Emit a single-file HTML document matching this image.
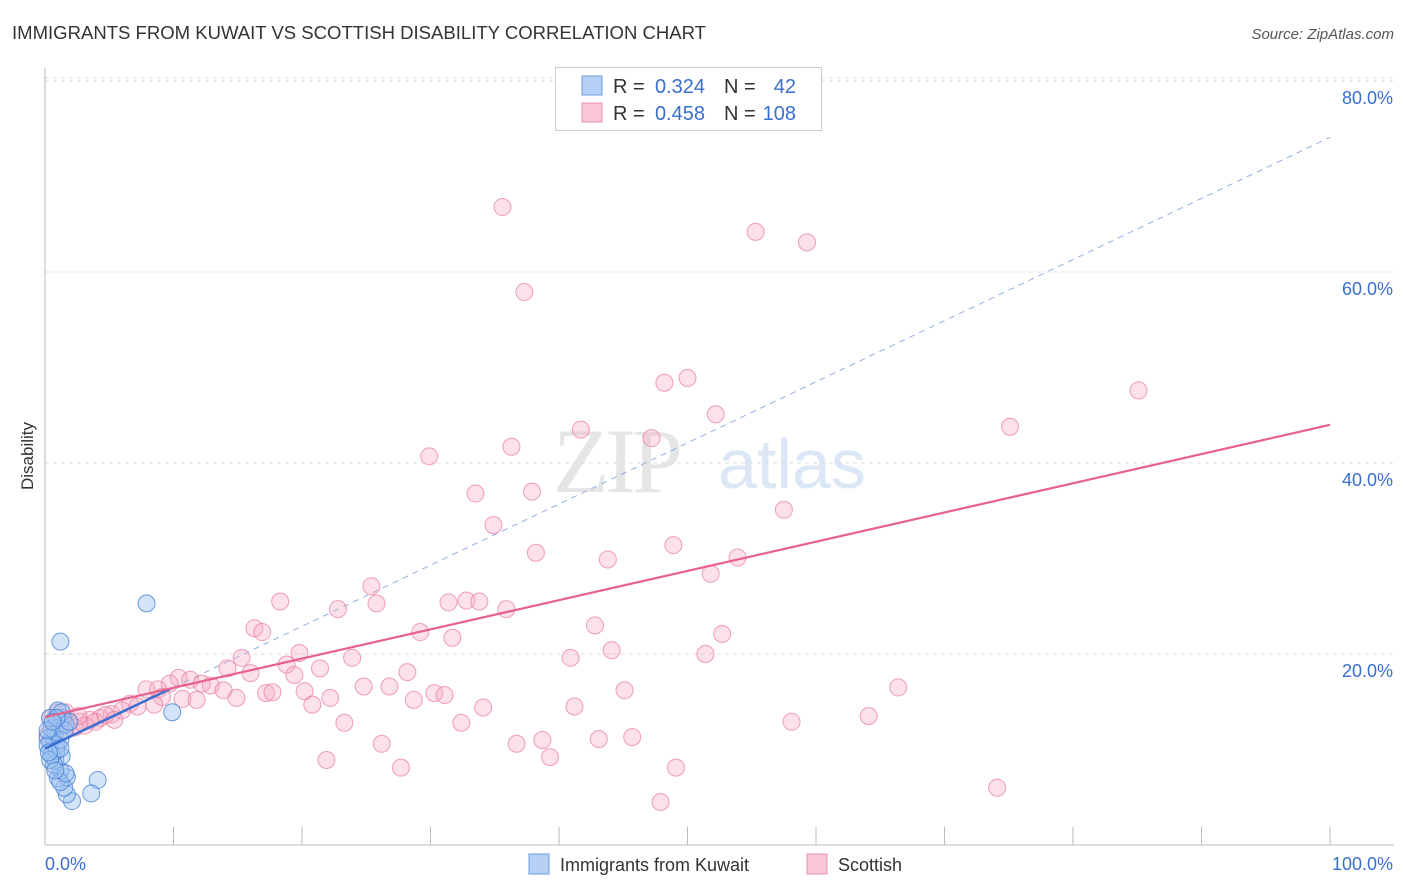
<!DOCTYPE html>
<html><head><meta charset="utf-8"><style>
body{margin:0;background:#fff;font-family:"Liberation Sans",sans-serif;}
svg{display:block}
</style></head><body>
<svg id="chart" width="1406" height="892" xmlns="http://www.w3.org/2000/svg">
<text x="12" y="39" font-size="18" fill="#333" textLength="694" lengthAdjust="spacingAndGlyphs">IMMIGRANTS FROM KUWAIT VS SCOTTISH DISABILITY CORRELATION CHART</text>
<text x="1394" y="39" font-size="15" fill="#555" font-style="italic" text-anchor="end">Source: ZipAtlas.com</text>
<text x="33" y="456" font-size="17" fill="#333" text-anchor="middle" transform="rotate(-90 33 456)">Disability</text>
<g opacity="0.5">
<text x="553" y="492" font-family="Liberation Serif,serif" font-size="92" fill="#ccc" letter-spacing="-4">ZIP</text>
<text x="718" y="488" font-size="70" fill="#b9cfee">atlas</text>
</g>
<g id="grid"></g><g id="axes"></g><g id="lines"></g><g id="pts"></g>
<g>
<rect x="555.5" y="67.5" width="266" height="63" fill="#fff" stroke="#ccc"/>
<rect x="582" y="76" width="20" height="19" fill="#b5d0f4" stroke="#6a9ee0"/>
<rect x="582" y="103" width="20" height="19" fill="#f9c6d5" stroke="#ec8fac"/>
<text x="613" y="93" font-size="20" fill="#333">R = </text>
<text x="705" y="93" font-size="20" fill="#3a6fd0" text-anchor="end">0.324</text>
<text x="724" y="93" font-size="20" fill="#333">N = </text>
<text x="796" y="93" font-size="20" fill="#3a6fd0" text-anchor="end">42</text>
<text x="613" y="120" font-size="20" fill="#333">R = </text>
<text x="705" y="120" font-size="20" fill="#3a6fd0" text-anchor="end">0.458</text>
<text x="724" y="120" font-size="20" fill="#333">N = </text>
<text x="796" y="120" font-size="20" fill="#3a6fd0" text-anchor="end">108</text>
</g>
<g>
<rect x="529" y="854" width="20" height="20" fill="#b5d0f4" stroke="#6a9ee0"/>
<text x="560" y="871" font-size="18" fill="#333">Immigrants from Kuwait</text>
<rect x="807" y="854" width="20" height="20" fill="#f9c6d5" stroke="#ec8fac"/>
<text x="838" y="871" font-size="18" fill="#333">Scottish</text>
</g>
</svg>
<script>
const yTicks=[20,40,60,80];
const yTickLabels=["20.0%","40.0%","60.0%","80.0%"];
const xTickLabels=["0.0%","100.0%"];
const kuwaitX=[7.9,1.2,9.9,4.1,3.6,2.1,1.7,1.5,1.7,1.0,1.2,0.8,1.3,0.5,0.9,0.4,0.6,0.2,0.8,1.2,1.4,1.6,0.5,1.0,1.3,0.4,0.7,1.2,1.6,0.5,0.2,0.9,1.2,1.5,0.2,0.4,0.8,1.9,0.9,1.2,0.6,0.3];
const kuwaitY=[25.3,21.3,13.9,6.8,5.4,4.6,5.3,6.0,7.1,7.0,7.8,8.9,9.3,9.9,10.4,10.8,11.4,11.2,11.8,12.5,13.3,12.6,12.2,14.1,13.9,13.3,8.4,6.6,7.5,9.4,10.4,9.9,11.0,12.0,12.0,8.9,7.8,12.9,13.3,10.1,12.9,9.7];
const scotX=[35.6,55.3,59.3,37.3,48.2,50.0,85.1,52.2,75.1,41.7,47.2,36.3,29.9,33.5,37.9,34.9,57.5,38.2,48.9,43.8,53.9,51.8,25.4,18.3,22.8,25.8,31.4,32.8,33.8,35.9,42.8,52.7,16.3,16.9,29.2,31.7,44.1,51.4,19.8,23.9,40.9,15.3,14.2,18.8,16.0,21.4,19.4,28.2,10.4,11.3,12.2,12.9,9.7,13.9,14.9,17.2,17.7,20.2,22.2,24.8,26.8,30.3,31.1,28.7,7.9,8.8,9.1,10.7,11.8,45.1,66.4,6.6,7.2,8.5,6.0,5.2,20.8,34.1,41.2,23.3,32.4,58.1,64.1,26.2,36.7,38.7,43.1,45.7,21.9,39.3,27.7,49.1,74.1,47.9,4.3,3.5,2.7,1.9,1.2,0.4,0.8,1.6,2.3,3.1,3.9,0.2,1.0,1.6,2.6,4.7,5.4];
const scotY=[66.8,64.2,63.1,57.9,48.4,48.9,47.6,45.1,43.8,43.5,42.6,41.7,40.7,36.8,37.0,33.5,35.1,30.6,31.4,29.9,30.1,28.4,27.1,25.5,24.7,25.3,25.4,25.6,25.5,24.7,23.0,22.1,22.7,22.3,22.3,21.7,20.4,20.0,20.1,19.6,19.6,19.6,18.5,18.9,18.0,18.5,17.8,18.1,17.5,17.3,16.9,16.7,16.9,16.2,15.4,15.9,16.0,16.1,15.4,16.6,16.6,15.9,15.7,15.2,16.3,16.3,15.5,15.3,15.2,16.2,16.5,14.8,14.5,14.7,14.1,13.7,14.7,14.4,14.5,12.8,12.8,12.9,13.5,10.6,10.6,11.0,11.1,11.3,8.9,9.2,8.1,8.1,6.0,4.5,13.3,13.1,12.9,12.9,13.1,13.3,12.2,12.0,12.3,12.5,12.9,11.5,13.9,13.9,13.5,13.6,13.1];
const kuwaitTrend=[[0,10.1],[100,74.1]];
const scotTrend=[[0,13.4],[100,44.0]];
const X0=45,X1=1330,Y0=845,PY=9.55;
const xs=v=>X0+v*(X1-X0)/100, ys=v=>Y0-v*PY;
const NS="http://www.w3.org/2000/svg";
function mk(tag,attrs,parent){const e=document.createElementNS(NS,tag);for(const k in attrs)e.setAttribute(k,attrs[k]);parent.appendChild(e);return e;}
const grid=document.getElementById('grid'),axes=document.getElementById('axes'),lines=document.getElementById('lines'),pts=document.getElementById('pts');
yTicks.forEach((t,i)=>{
 const l=mk('line',{x1:X0,x2:1394,y1:ys(t),y2:ys(t),stroke:'#ddd','stroke-dasharray':'4,4'},grid);
 
 
 const tx=mk('text',{x:1393,y:ys(t)+23,'font-size':18,fill:'#3a6fd0','text-anchor':'end'},grid);
 tx.textContent=yTickLabels[i];
 
 
});
const tl=mk('line',{x1:X0,x2:1394,y1:78,y2:78,stroke:'#ddd','stroke-dasharray':'4,4'},grid);


const ya=mk('line',{x1:X0,x2:X0,y1:68,y2:Y0,stroke:'#bbb'},axes);


const xa=mk('line',{x1:X0,x2:1394,y1:Y0,y2:Y0,stroke:'#bbb'},axes);


for(let i=1;i<=10;i++){const t=mk('line',{x1:xs(i*10),x2:xs(i*10),y1:Y0,y2:Y0-18,stroke:'#bbb'},axes);
 
 }
[[0,'start',45],[100,'end',1393]].forEach((d,i)=>{const t=mk('text',{x:d[2],y:870,'font-size':18,fill:'#3a6fd0','text-anchor':d[1]},axes);t.textContent=xTickLabels[i];
 
 });
function pointsOf(X,Y,fill,stroke,name){X.forEach((x,i)=>{const c=mk('circle',{cx:xs(x),cy:ys(Y[i]),r:8.5,fill:fill,stroke:stroke,'stroke-width':1},pts);
 
 });}
pointsOf(scotX,scotY,'rgba(246,170,195,0.35)','rgba(232,120,158,0.7)','scottish-point');
pointsOf(kuwaitX,kuwaitY,'rgba(160,195,240,0.45)','rgba(70,130,215,0.8)','kuwait-point');
const kd=mk('line',{x1:xs(kuwaitTrend[0][0]),y1:ys(kuwaitTrend[0][1]),x2:xs(kuwaitTrend[1][0]),y2:ys(kuwaitTrend[1][1]),stroke:'#8fb0e0','stroke-dasharray':'6,5','stroke-width':1},lines);


const kx=kuwaitTrend[0][1]+(kuwaitTrend[1][1]-kuwaitTrend[0][1])*0.098;
const ks=mk('line',{x1:xs(0),y1:ys(kuwaitTrend[0][1]),x2:xs(9.8),y2:ys(kx),stroke:'#3a6fd0','stroke-width':2.5},pts);


const sl=mk('line',{x1:xs(scotTrend[0][0]),y1:ys(scotTrend[0][1]),x2:xs(scotTrend[1][0]),y2:ys(scotTrend[1][1]),stroke:'#e8608c','stroke-width':2.2},pts);


</script>
</body></html>
